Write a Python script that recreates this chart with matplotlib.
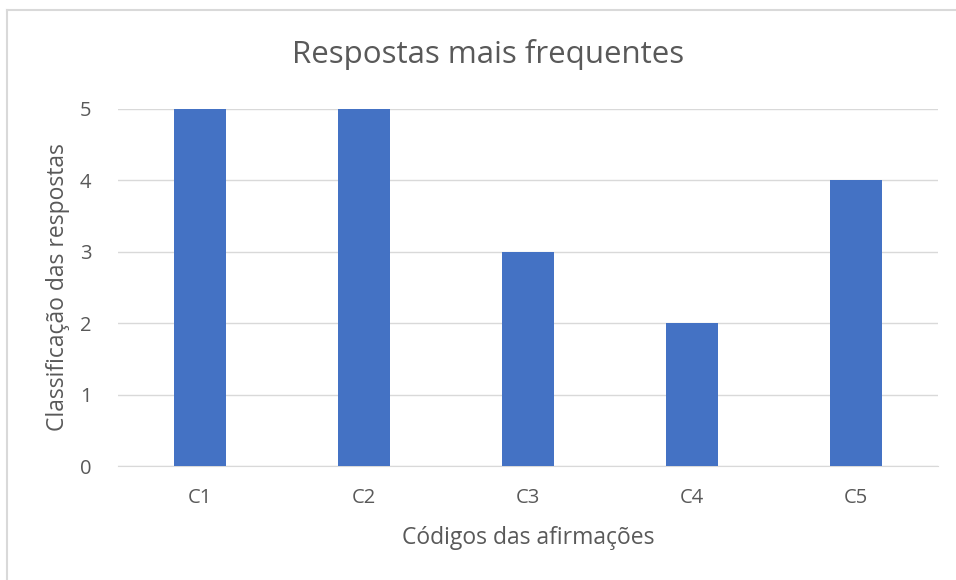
import matplotlib.pyplot as plt
from matplotlib.lines import Line2D
import numpy as np

categorias = ["C1", "C2", "C3", "C4", "C5"]
valores = [5, 5, 3, 2, 4]
yticks = [0, 1, 2, 3, 4, 5]

plt.rcParams['font.family'] = ['Open Sans', 'DejaVu Sans']

W, H = 956, 580
fig = plt.figure(figsize=(W / 100, H / 100), dpi=100)
ax = fig.add_axes([118 / W, 1 - 466 / H, 820 / W, 357 / H])

x = np.arange(len(categorias))
ax.bar(x, valores, width=0.316, color="#4472C4", zorder=3)

ax.set_xlim(-0.5, len(categorias) - 0.5)
ax.set_ylim(0, 5)
ax.set_yticks(yticks)
ax.set_xticks(x)
ax.set_xticklabels(categorias)
ax.grid(axis="y", color="#D9D9D9", linewidth=1, zorder=0)
ax.tick_params(length=0, labelsize=14.5, colors="#595959")
ax.tick_params(axis="x", pad=16)
ax.tick_params(axis="y", pad=19)
for s in ["top", "right", "left"]:
    ax.spines[s].set_visible(False)
ax.spines["bottom"].set_color("#D9D9D9")

ax.set_xlabel("Códigos das afirmações", fontsize=16.5, color="#595959", labelpad=13)
ax.set_ylabel("Classificação das respostas", fontsize=16.5, color="#595959", labelpad=7)
fig.text(488 / W, 1 - 55 / H, "Respostas mais frequentes", fontsize=22.5, color="#595959",
         ha="center", va="center")

# chart border (left and top edges only, the rest is cropped)
fig.lines.append(Line2D([7 / W, 7 / W], [0, 1 - 10 / H], transform=fig.transFigure,
                        color="#D9D9D9", linewidth=1.5))
fig.lines.append(Line2D([7 / W, 1], [1 - 10 / H, 1 - 10 / H], transform=fig.transFigure,
                        color="#D9D9D9", linewidth=1.5))

fig.savefig("out.png", dpi=100)
